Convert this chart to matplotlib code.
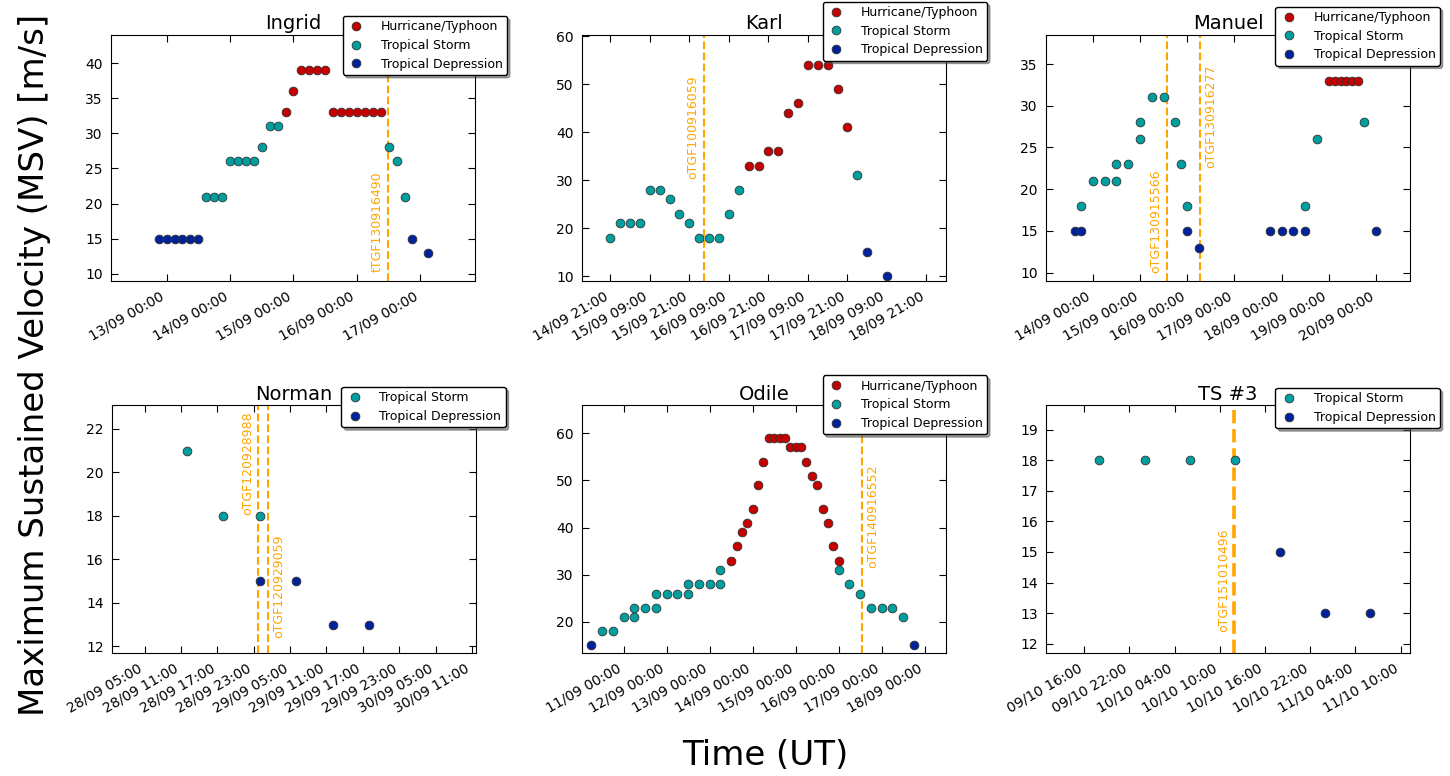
import matplotlib
matplotlib.use('Agg')
import matplotlib.pyplot as plt
import matplotlib.dates as mdates
from matplotlib.ticker import MultipleLocator
import numpy as np
import pandas as pd

# ---- data ----
ingrid_time = ['2013-09-12 21:00', '2013-09-13 00:00', '2013-09-13 03:00', '2013-09-13 06:00',
               '2013-09-13 09:00', '2013-09-13 12:00', '2013-09-13 15:00', '2013-09-13 18:00',
               '2013-09-13 21:00', '2013-09-14 00:00', '2013-09-14 03:00', '2013-09-14 06:00',
               '2013-09-14 09:00', '2013-09-14 12:00', '2013-09-14 15:00', '2013-09-14 18:00',
               '2013-09-14 21:00', '2013-09-15 00:00', '2013-09-15 03:00', '2013-09-15 06:00',
               '2013-09-15 09:00', '2013-09-15 12:00', '2013-09-15 15:00', '2013-09-15 18:00',
               '2013-09-15 21:00', '2013-09-16 00:00', '2013-09-16 03:00', '2013-09-16 06:00',
               '2013-09-16 09:00', '2013-09-16 12:00', '2013-09-16 15:00', '2013-09-16 18:00',
               '2013-09-16 21:00', '2013-09-17 03:00']
ingrid_msv = [15, 15, 15, 15, 15, 15, 21, 21, 21, 26, 26, 26, 26, 28, 31, 31, 33, 36,
              39, 39, 39, 39, 33, 33, 33, 33, 33, 33, 33, 28, 26, 21, 15, 13]
ingrid_cat = ['TD'] * 6 + ['TS'] * 10 + ['H'] * 13 + ['TS'] * 3 + ['TD'] * 2
ingrid_tgf = ['2013-09-16 11:45']
ingrid_tgf_name = ['tTGF130916490']

karl_time = ['2010-09-14 21:00', '2010-09-15 00:00', '2010-09-15 03:00', '2010-09-15 06:00',
             '2010-09-15 09:00', '2010-09-15 12:00', '2010-09-15 15:00', '2010-09-15 18:00',
             '2010-09-15 21:00', '2010-09-16 00:00', '2010-09-16 03:00', '2010-09-16 06:00',
             '2010-09-16 09:00', '2010-09-16 12:00', '2010-09-16 15:00', '2010-09-16 18:00',
             '2010-09-16 21:00', '2010-09-17 00:00', '2010-09-17 03:00', '2010-09-17 06:00',
             '2010-09-17 09:00', '2010-09-17 12:00', '2010-09-17 15:00', '2010-09-17 18:00',
             '2010-09-17 21:00', '2010-09-18 00:00', '2010-09-18 03:00', '2010-09-18 09:00']
karl_msv = [18, 21, 21, 21, 28, 28, 26, 23, 21, 18, 18, 18, 23, 28,
            33, 33, 36, 36, 44, 46, 54, 54, 54, 49, 41, 31, 15, 10]
karl_cat = ['TS'] * 14 + ['H'] * 11 + ['TS'] + ['TD'] * 2
karl_tgf = ['2010-09-16 01:25']
karl_tgf_name = ['oTGF100916059']

manuel_time = ['2013-09-13 15:00', '2013-09-13 18:00', '2013-09-13 18:00', '2013-09-14 00:00',
               '2013-09-14 06:00', '2013-09-14 12:00', '2013-09-14 12:00', '2013-09-14 18:00',
               '2013-09-15 00:00', '2013-09-15 00:00', '2013-09-15 06:00', '2013-09-15 12:00',
               '2013-09-15 18:00', '2013-09-15 21:00', '2013-09-16 00:00', '2013-09-16 00:00',
               '2013-09-16 06:00', '2013-09-17 18:00', '2013-09-18 00:00', '2013-09-18 06:00',
               '2013-09-18 12:00', '2013-09-18 12:00', '2013-09-18 18:00', '2013-09-19 00:00',
               '2013-09-19 03:00', '2013-09-19 06:00', '2013-09-19 09:00', '2013-09-19 12:00',
               '2013-09-19 15:00', '2013-09-19 18:00', '2013-09-20 00:00']
manuel_msv = [15, 15, 18, 21, 21, 21, 23, 23, 26, 28, 31, 31, 28, 23, 18, 15,
              13, 15, 15, 15, 15, 18, 26, 33, 33, 33, 33, 33, 33, 28, 15]
manuel_cat = ['TD', 'TD'] + ['TS'] * 13 + ['TD'] * 6 + ['TS', 'TS'] + ['H'] * 6 + ['TS', 'TD']
manuel_tgf = ['2013-09-15 13:35', '2013-09-16 06:39']
manuel_tgf_name = ['oTGF130915566', 'oTGF130916277']

norman_time = ['2012-09-28 12:00', '2012-09-28 18:00', '2012-09-29 00:00', '2012-09-29 00:00',
               '2012-09-29 06:00', '2012-09-29 12:00', '2012-09-29 18:00']
norman_msv = [21, 18, 18, 15, 15, 13, 13]
norman_cat = ['TS', 'TS', 'TS', 'TD', 'TD', 'TD', 'TD']
norman_tgf = ['2012-09-28 23:43', '2012-09-29 01:25']
norman_tgf_name = ['oTGF120928988', 'oTGF120929059']

odile_time = ['2014-09-10 06:00', '2014-09-10 12:00', '2014-09-10 18:00', '2014-09-11 00:00',
              '2014-09-11 06:00', '2014-09-11 06:00', '2014-09-11 12:00', '2014-09-11 18:00',
              '2014-09-11 18:00', '2014-09-12 00:00', '2014-09-12 06:00', '2014-09-12 12:00',
              '2014-09-12 12:00', '2014-09-12 18:00', '2014-09-13 00:00', '2014-09-13 06:00',
              '2014-09-13 06:00', '2014-09-13 12:00', '2014-09-13 15:00', '2014-09-13 18:00',
              '2014-09-13 21:00', '2014-09-14 00:00', '2014-09-14 03:00', '2014-09-14 06:00',
              '2014-09-14 09:00', '2014-09-14 12:00', '2014-09-14 15:00', '2014-09-14 18:00',
              '2014-09-14 21:00', '2014-09-15 00:00', '2014-09-15 03:00', '2014-09-15 06:00',
              '2014-09-15 09:00', '2014-09-15 12:00', '2014-09-15 15:00', '2014-09-15 18:00',
              '2014-09-15 21:00', '2014-09-16 00:00', '2014-09-16 00:00', '2014-09-16 06:00',
              '2014-09-16 12:00', '2014-09-16 18:00', '2014-09-17 00:00', '2014-09-17 06:00',
              '2014-09-17 12:00', '2014-09-17 18:00']
odile_msv = [15, 18, 18, 21, 21, 23, 23, 23, 26, 26, 26, 26, 28, 28, 28, 28, 31,
             33, 36, 39, 41, 44, 49, 54, 59, 59, 59, 59, 57, 57, 57, 54, 51, 49, 44, 41, 36, 33,
             31, 28, 26, 23, 23, 23, 21, 15]
odile_cat = ['TD'] + ['TS'] * 16 + ['H'] * 21 + ['TS'] * 7 + ['TD']
odile_tgf = ['2014-09-16 13:15']
odile_tgf_name = ['oTGF140916552']

ts3_time = ['2015-10-09 18:00', '2015-10-10 00:00', '2015-10-10 06:00', '2015-10-10 12:00',
            '2015-10-10 18:00', '2015-10-11 00:00', '2015-10-11 06:00']
ts3_msv = [18, 18, 18, 18, 15, 13, 13]
ts3_cat = ['TS', 'TS', 'TS', 'TS', 'TD', 'TD', 'TD']
ts3_tgf = ['2015-10-10 11:54']
ts3_tgf_name = ['oTGF151010496']

cat_order = ['H', 'TS', 'TD']
cat_label = {'H': 'Hurricane/Typhoon', 'TS': 'Tropical Storm', 'TD': 'Tropical Depression'}
cat_color = {'H': '#c40000', 'TS': '#009f9f', 'TD': '#00239c'}
TGF_COLOR = '#ffa500'

plt.rcParams['font.family'] = 'DejaVu Sans'
plt.rcParams['xtick.direction'] = 'in'
plt.rcParams['ytick.direction'] = 'in'
plt.rcParams['xtick.top'] = True
plt.rcParams['ytick.right'] = True
plt.rcParams['xtick.major.size'] = 5
plt.rcParams['ytick.major.size'] = 5
plt.rcParams['xtick.major.pad'] = 6
plt.rcParams['ytick.major.pad'] = 6


def draw_panel(ax, title, times, msv, cats, tgf_times, tgf_names, xlim, ylim, ystep,
               locator, leg_anchor, tgf_text, tgf_lw=1.5):
    t = pd.to_datetime(times)
    msv = np.array(msv)
    cats = np.array(cats)
    for c in cat_order:
        m = cats == c
        if m.any():
            ax.plot(t[m], msv[m], 'o', color=cat_color[c], markeredgecolor='#333333',
                    markeredgewidth=0.6, markersize=6.3, label=cat_label[c], zorder=3)
    for tt, name, (side, yfrac) in zip(tgf_times, tgf_names, tgf_text):
        x = pd.Timestamp(tt)
        ax.axvline(x, color=TGF_COLOR, linestyle='--', linewidth=tgf_lw, zorder=2)
        dx = -3 if side == 'left' else 3
        ax.annotate(name, xy=(x, yfrac), xycoords=('data', 'axes fraction'),
                    xytext=(dx, 0), textcoords='offset points', rotation=90,
                    ha='right' if side == 'left' else 'left', va='bottom',
                    color=TGF_COLOR, fontsize=9)
    ax.set_xlim(pd.Timestamp(xlim[0]), pd.Timestamp(xlim[1]))
    ax.set_ylim(*ylim)
    ax.yaxis.set_major_locator(MultipleLocator(ystep))
    ax.xaxis.set_major_locator(locator)
    ax.xaxis.set_major_formatter(mdates.DateFormatter('%d/%m %H:%M'))
    ax.tick_params(labelsize=10)
    for lab in ax.get_xticklabels():
        lab.set_rotation(30)
        lab.set_ha('right')
    ax.set_title(title, fontsize=14, pad=4)
    ax.legend(loc='upper right', bbox_to_anchor=leg_anchor, borderaxespad=0,
              numpoints=1, fontsize=9, shadow=True, fancybox=True, framealpha=1,
              edgecolor='black', handletextpad=1.2, labelspacing=0.45,
              borderpad=0.35, handlelength=1.5)


fig = plt.figure(figsize=(14.5, 7.76), dpi=100)
W, H = 0.251, 0.317
ax1 = fig.add_axes([0.0766, 0.638, W, H])
ax2 = fig.add_axes([0.4014, 0.638, W, H])
ax3 = fig.add_axes([0.7214, 0.638, W, H])
ax4 = fig.add_axes([0.0772, 0.1585, W, 0.3195])
ax5 = fig.add_axes([0.4014, 0.1585, W, 0.3195])
ax6 = fig.add_axes([0.7214, 0.1585, W, 0.3195])

draw_panel(ax1, 'Ingrid', ingrid_time, ingrid_msv, ingrid_cat, ingrid_tgf, ingrid_tgf_name,
           ('2013-09-12 03:00', '2013-09-17 20:40'), (9, 44), 5, mdates.DayLocator(),
           (1.088, 1.077), [('left', 0.035)])
draw_panel(ax2, 'Karl', karl_time, karl_msv, karl_cat, karl_tgf, karl_tgf_name,
           ('2010-09-14 12:25', '2010-09-19 02:55'), (9, 60.3), 10,
           mdates.HourLocator(byhour=[9, 21]), (1.113, 1.135), [('left', 0.415)])
draw_panel(ax3, 'Manuel', manuel_time, manuel_msv, manuel_cat, manuel_tgf, manuel_tgf_name,
           ('2013-09-13 00:15', '2013-09-20 17:20'), (9, 38.5), 5, mdates.DayLocator(),
           (1.082, 1.115), [('left', 0.033), ('right', 0.46)])
draw_panel(ax4, 'Norman', norman_time, norman_msv, norman_cat, norman_tgf, norman_tgf_name,
           ('2012-09-27 23:35', '2012-09-30 11:40'), (11.7, 23.1), 2,
           mdates.HourLocator(byhour=[5, 11, 17, 23]), (1.082, 1.073),
           [('left', 0.556), ('right', 0.06)])
draw_panel(ax5, 'Odile', odile_time, odile_msv, odile_cat, odile_tgf, odile_tgf_name,
           ('2014-09-10 00:45', '2014-09-18 11:55'), (13.4, 66), 10, mdates.DayLocator(),
           (1.113, 1.12), [('right', 0.343)])
draw_panel(ax6, 'TS #3', ts3_time, ts3_msv, ts3_cat, ts3_tgf, ts3_tgf_name,
           ('2015-10-09 10:55', '2015-10-11 11:15'), (11.7, 19.8), 1,
           mdates.HourLocator(byhour=[4, 10, 16, 22]), (1.082, 1.069), [('left', 0.085)],
           tgf_lw=2.6)

fig.text(0.024, 0.53, 'Maximum Sustained Velocity (MSV) [m/s]', rotation=90,
         ha='center', va='center', fontsize=24.5)
fig.text(0.528, 0.026, 'Time (UT)', ha='center', va='center', fontsize=24.5)

fig.savefig('out.png', dpi=100)
